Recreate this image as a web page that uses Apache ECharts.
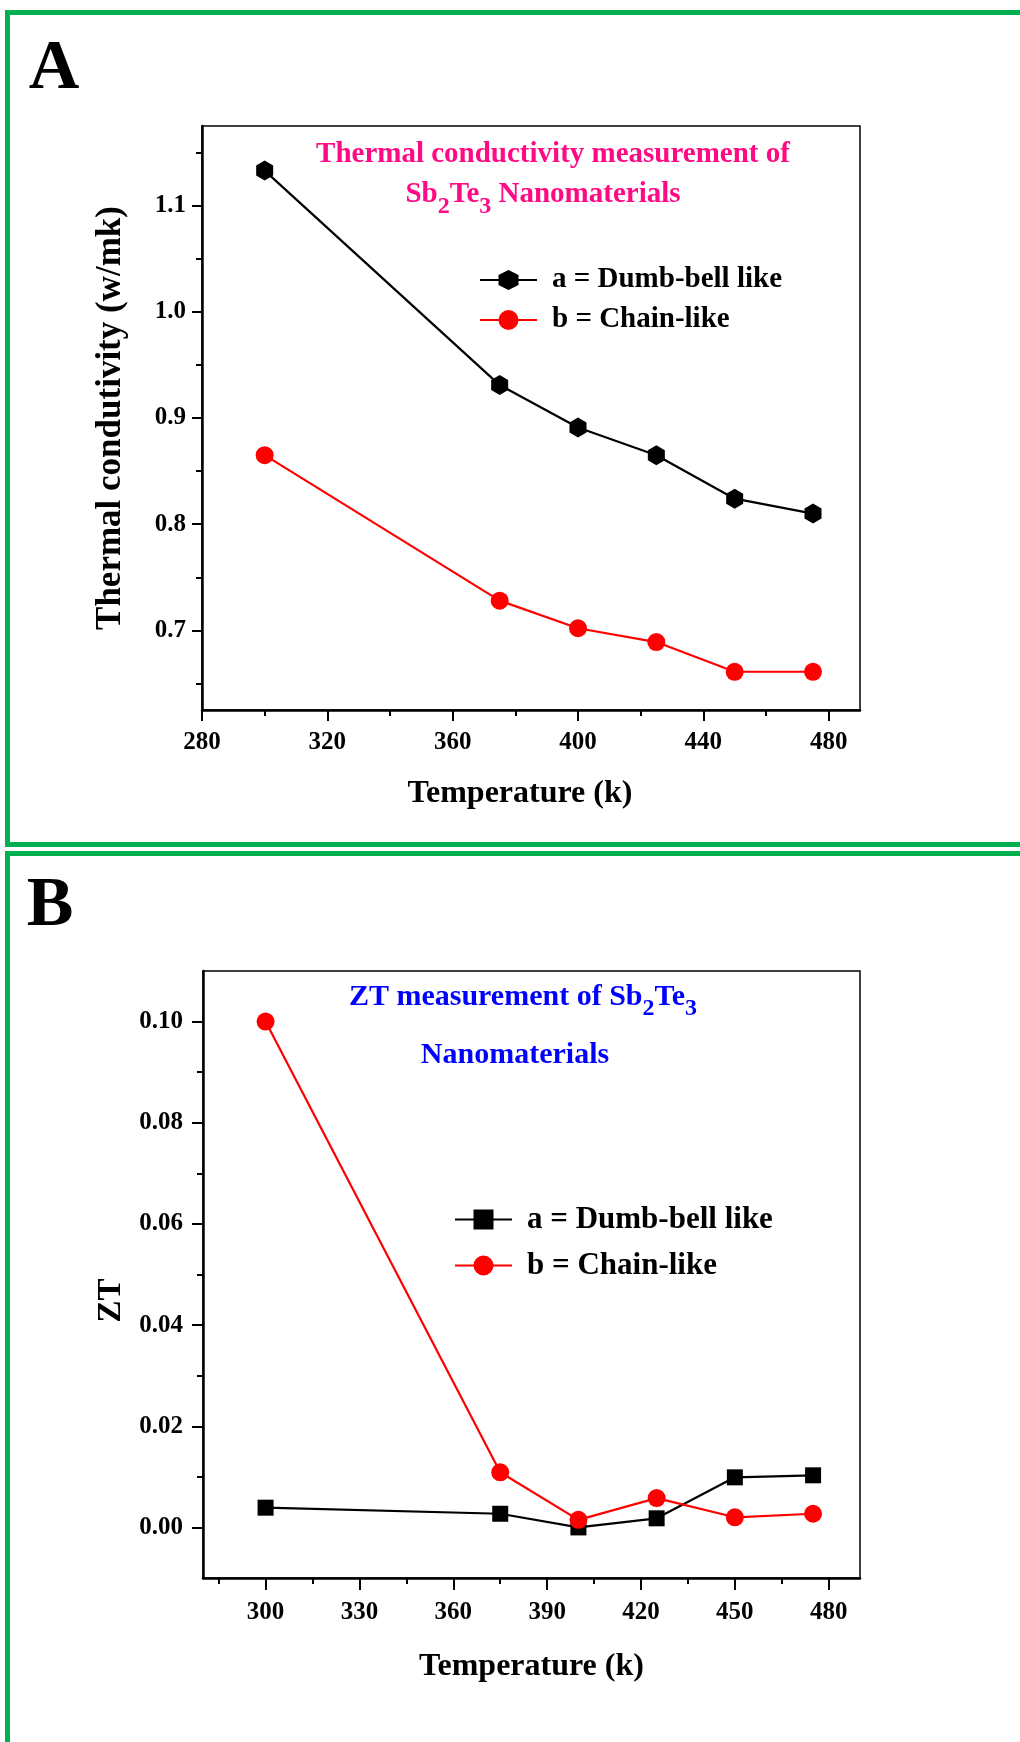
<!DOCTYPE html>
<html>
<head>
<meta charset="utf-8">
<script src="https://cdn.jsdelivr.net/npm/echarts@6.0.0/dist/echarts.min.js"></script>
<style>
  html, body { margin: 0; padding: 0; background: #fff; }
  .panel { width: 1020px; }
  #panelA { height: 849px; }
  #panelB { height: 893px; }
</style>
</head>
<body>
<div class="panel" id="panelA"></div>
<div class="panel" id="panelB"></div>
<script>
// measured temperatures (k)
const temps = [300, 375, 400, 425, 450, 475]

// panel A : thermal conductivity (w/mk)
const kDumbbell = [1.133, 0.931, 0.891, 0.865, 0.824, 0.810]
const kChain = [0.865, 0.728, 0.702, 0.689, 0.661, 0.661]

// panel B : ZT
const ztDumbbell = [0.0039, 0.0027, 0.0000, 0.0018, 0.0099, 0.0103]
const ztChain = [0.1000, 0.0109, 0.0015, 0.0058, 0.0020, 0.0027]

// tick labels
const tempTicksA = [280, 320, 360, 400, 440, 480]
const tempMinorA = [300, 340, 380, 420, 460]
const kTicks = [0.7, 0.8, 0.9, 1.0, 1.1]
const kMinor = [0.65, 0.75, 0.85, 0.95, 1.05, 1.15]
const tempTicksB = [300, 330, 360, 390, 420, 450, 480]
const tempMinorB = [285, 315, 345, 375, 405, 435, 465]
const ztTicks = [0.00, 0.02, 0.04, 0.06, 0.08, 0.10]
const ztMinor = [0.01, 0.03, 0.05, 0.07, 0.09]

const seriesNames = ['a = Dumb-bell like', 'b = Chain-like']

const FONT = "'Liberation Serif', 'Times New Roman', serif"
const GREEN = '#00b050'
const hexagon = 'path://M0,-10L8.66,-5L8.66,5L0,10L-8.66,5L-8.66,-5Z'

function pairs (xs, ys) {
  return xs.map((x, i) => [x, ys[i]])
}

function textStyle (size) {
  return { color: '#000', fontFamily: FONT, fontWeight: 'bold', fontSize: size }
}

// main axis (line, labels, long ticks) + a bare axis carrying the short ticks
function axisPair (dim, grid, min, max, major, minor, fmt, opts) {
  const pos = dim === 'x' ? 'bottom' : 'left'
  const main = {
    type: 'value',
    gridIndex: grid,
    position: pos,
    min: min,
    max: max,
    axisLine: { show: true, onZero: false, lineStyle: { color: '#000', width: 2.5 } },
    axisTick: { show: true, length: opts.tickLen, customValues: major, lineStyle: { color: '#000', width: 2 } },
    axisLabel: Object.assign({ customValues: major, margin: opts.margin, formatter: fmt }, textStyle(25)),
    splitLine: { show: false },
    name: opts.name,
    nameLocation: 'middle',
    nameGap: opts.nameGap,
    nameTextStyle: Object.assign({ padding: opts.namePad || 0 }, textStyle(opts.nameSize))
  }
  const small = {
    type: 'value',
    gridIndex: grid,
    position: pos,
    min: min,
    max: max,
    axisLine: { show: false, onZero: false },
    axisTick: { show: true, length: 6, customValues: minor, lineStyle: { color: '#000', width: 2 } },
    axisLabel: { show: false },
    splitLine: { show: false }
  }
  return [main, small]
}

function frame (x, y, w, h) {
  return { type: 'rect', shape: { x: x, y: y, width: w, height: h }, style: { fill: 'none', stroke: GREEN, lineWidth: 5 }, silent: true }
}

function label (text, x, y, size, color, extra) {
  return {
    type: 'text',
    x: x,
    y: y,
    style: Object.assign({
      text: text,
      fill: color,
      font: 'bold ' + size + 'px ' + FONT,
      align: 'center',
      verticalAlign: 'middle',
      textAlign: 'center',
      textVerticalAlign: 'middle'
    }, extra || {})
  }
}

function subText (text, x, y, size, color) {
  return label(text, x, y, size, color, {
    lineHeight: 36,
    rich: {
      m: { fontSize: size, fontWeight: 'bold', fontFamily: FONT, fill: color, lineHeight: 36 },
      s: { fontSize: 24, fontWeight: 'bold', fontFamily: FONT, fill: color, lineHeight: 36, padding: [24, 0, 0, 0] }
    }
  })
}

function legend (left, top, size, gap) {
  return {
    orient: 'vertical',
    left: left,
    top: top,
    itemWidth: 57,
    itemHeight: 25,
    itemGap: gap,
    selectedMode: false,
    data: seriesNames,
    textStyle: Object.assign({ lineHeight: 30, padding: [0, 0, 0, 10] }, textStyle(size))
  }
}

// ---------------- panel A ----------------
const chartA = echarts.init(document.getElementById('panelA'))
const xA = axisPair('x', 0, 280, 490, tempTicksA, tempMinorA, v => String(v),
  { tickLen: 11, margin: 20, name: 'Temperature (k)', nameGap: 68, nameSize: 32, namePad: [0, 22, 0, 0] })
const yA = axisPair('y', 0, 0.625, 1.175, kTicks, kMinor, v => v.toFixed(1),
  { tickLen: 10, margin: 16, name: 'Thermal condutivity (w/mk)', nameGap: 74, nameSize: 35 })

chartA.setOption({
  animation: false,
  grid: { left: 202, top: 126, width: 658, height: 584, containLabel: false, show: true, borderColor: '#000', borderWidth: 1.5 },
  xAxis: xA,
  yAxis: yA,
  legend: legend(474, 260, 29, 10),
  graphic: [
    frame(7.5, 12.5, 1100, 832),
    label('A', 54, 70, 70, '#000'),
    label('Thermal conductivity measurement of', 553, 155, 29, '#ff0a84'),
    subText('{m|Sb}{s|2}{m|Te}{s|3}{m| Nanomaterials}', 543, 195, 29, '#ff0a84')
  ],
  series: [
    {
      name: seriesNames[0],
      type: 'line',
      data: pairs(temps, kDumbbell),
      symbol: hexagon,
      symbolSize: [17, 20],
      lineStyle: { color: '#000', width: 2.2 },
      itemStyle: { color: '#000' }
    },
    {
      name: seriesNames[1],
      type: 'line',
      data: pairs(temps, kChain),
      symbol: 'circle',
      symbolSize: 18,
      lineStyle: { color: '#ff0000', width: 2.2 },
      itemStyle: { color: '#ff0000' }
    }
  ]
})

// ---------------- panel B ----------------
const chartB = echarts.init(document.getElementById('panelB'))
const xB = axisPair('x', 0, 280, 490, tempTicksB, tempMinorB, v => String(v),
  { tickLen: 12, margin: 22, name: 'Temperature (k)', nameGap: 73, nameSize: 32 })
const yB = axisPair('y', 0, -0.01, 0.11, ztTicks, ztMinor, v => v.toFixed(2),
  { tickLen: 11, margin: 20, name: 'ZT', nameGap: 74, nameSize: 33, namePad: [0, 52, 0, 0] })

chartB.setOption({
  animation: false,
  grid: { left: 203, top: 122, width: 657, height: 607, containLabel: false, show: true, borderColor: '#000', borderWidth: 1.5 },
  xAxis: xB,
  yAxis: yB,
  legend: legend(449, 350, 31, 15),
  graphic: [
    frame(7.5, 4.5, 1100, 1000),
    label('B', 50, 58, 70, '#000'),
    subText('{m|ZT measurement of Sb}{s|2}{m|Te}{s|3}', 523, 148, 30, '#0000ff'),
    label('Nanomaterials', 515, 206, 30, '#0000ff')
  ],
  series: [
    {
      name: seriesNames[0],
      type: 'line',
      data: pairs(temps, ztDumbbell),
      symbol: 'rect',
      symbolSize: 16,
      lineStyle: { color: '#000', width: 2.2 },
      itemStyle: { color: '#000' }
    },
    {
      name: seriesNames[1],
      type: 'line',
      data: pairs(temps, ztChain),
      symbol: 'circle',
      symbolSize: 18,
      lineStyle: { color: '#ff0000', width: 2.2 },
      itemStyle: { color: '#ff0000' }
    }
  ]
})
</script>
</body>
</html>
